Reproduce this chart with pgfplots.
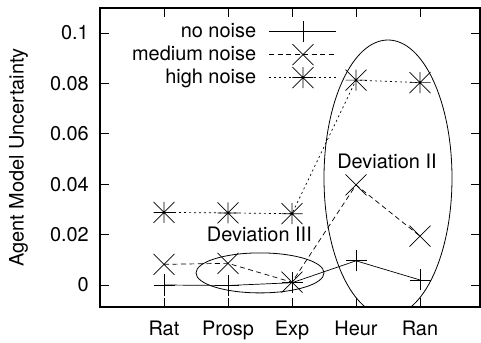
\documentclass[border=0pt]{standalone}
\usepackage{pgfplots}
\pgfplotsset{compat=1.18}
\usepackage{fontspec}
\setmainfont{TeX Gyre Heros}
\pgfdeclareplotmark{gpplus}{%
  \pgfpathmoveto{\pgfqpoint{-\pgfplotmarksize}{0pt}}\pgfpathlineto{\pgfqpoint{\pgfplotmarksize}{0pt}}%
  \pgfpathmoveto{\pgfqpoint{0pt}{-\pgfplotmarksize}}\pgfpathlineto{\pgfqpoint{0pt}{\pgfplotmarksize}}%
  \pgfusepathqstroke}
\pgfdeclareplotmark{gpcross}{%
  \pgfpathmoveto{\pgfqpoint{-\pgfplotmarksize}{-\pgfplotmarksize}}\pgfpathlineto{\pgfqpoint{\pgfplotmarksize}{\pgfplotmarksize}}%
  \pgfpathmoveto{\pgfqpoint{-\pgfplotmarksize}{\pgfplotmarksize}}\pgfpathlineto{\pgfqpoint{\pgfplotmarksize}{-\pgfplotmarksize}}%
  \pgfusepathqstroke}
\pgfdeclareplotmark{gpstar}{%
  \pgfpathmoveto{\pgfqpoint{-\pgfplotmarksize}{0pt}}\pgfpathlineto{\pgfqpoint{\pgfplotmarksize}{0pt}}%
  \pgfpathmoveto{\pgfqpoint{0pt}{-\pgfplotmarksize}}\pgfpathlineto{\pgfqpoint{0pt}{\pgfplotmarksize}}%
  \pgfpathmoveto{\pgfqpoint{-\pgfplotmarksize}{-\pgfplotmarksize}}\pgfpathlineto{\pgfqpoint{\pgfplotmarksize}{\pgfplotmarksize}}%
  \pgfpathmoveto{\pgfqpoint{-\pgfplotmarksize}{\pgfplotmarksize}}\pgfpathlineto{\pgfqpoint{\pgfplotmarksize}{-\pgfplotmarksize}}%
  \pgfusepathqstroke}
\begin{document}
\begin{tikzpicture}
\begin{axis}[name=ax, scale only axis, width=380bp, height=299bp,
  xmin=0, xmax=5.9375, ymin=-0.00873, ymax=0.10992,
  xtick={1,2,3,4,5}, xticklabels={Rat,Prosp,Exp,Heur,Ran},
  ytick={0,0.02,0.04,0.06,0.08,0.1}, yticklabels={0,0.02,0.04,0.06,0.08,0.1},
  tick align=inside, major tick length=9bp,
  every tick/.style={black, line width=0.8bp},
  axis line style={line width=1.2bp},
  xticklabel style={font=\fontsize{20}{24}\selectfont, anchor=north, inner sep=0pt, yshift=-14bp},
  yticklabel style={font=\fontsize{20}{24}\selectfont, anchor=east, inner sep=0pt, xshift=-11bp},
  legend plot pos=right, legend cell align=right,
  legend style={draw=none, fill=none, at={(rel axis cs:0.6237,0.957)}, anchor=north east,
    font=\fontsize{20}{24}\selectfont, inner sep=0pt, column sep=13bp, row sep=2bp,
    nodes={inner sep=0pt, text height=15bp, text depth=4bp}},
  legend image code/.code={\draw[mark repeat=2, mark phase=2] plot coordinates {(0bp,0bp) (33.5bp,0bp) (67bp,0bp)};},
  mark size=10.5bp,
]
\addplot[black, line width=0.7bp, mark=gpplus, mark options={solid}] coordinates {(1,0) (2,-0.0002) (3,0.0009) (4,0.0096) (5,0.0020)};
\addlegendentry{no noise}
\addplot[black, line width=0.7bp, dash pattern=on 5bp off 3.5bp, mark=gpcross, mark options={solid}] coordinates {(1,0.0082) (2,0.0086) (3,0.0011) (4,0.0397) (5,0.0194)};
\addlegendentry{medium noise}
\addplot[black, line width=0.7bp, dash pattern=on 2bp off 3bp, mark=gpstar, mark options={solid}] coordinates {(1,0.0288) (2,0.0286) (3,0.0283) (4,0.0813) (5,0.0803)};
\addlegendentry{high noise}
\draw[line width=0.8bp] (axis cs:2.5,0.0048) ellipse [x radius=64bp, y radius=20bp];
\draw[line width=0.8bp] (axis cs:4.5,0.04246) ellipse [x radius=64bp, y radius=138bp];
\node[anchor=base, inner sep=0pt, font=\fontsize{20}{24}\selectfont] at (axis cs:4.484,0.0464) {Deviation II};
\node[anchor=base, inner sep=0pt, font=\fontsize{20}{24}\selectfont] at (axis cs:2.49,0.0172) {Deviation III};
\end{axis}
\node[rotate=90, anchor=north, inner sep=0pt, font=\fontsize{20}{24}\selectfont] at ([xshift=-91bp]ax.west) {Agent Model Uncertainty};
\pgfresetboundingbox
\path[use as bounding box] ([xshift=-100bp,yshift=-36bp]ax.south west) rectangle ([xshift=1bp,yshift=8bp]ax.north east);
\end{tikzpicture}
\end{document}
